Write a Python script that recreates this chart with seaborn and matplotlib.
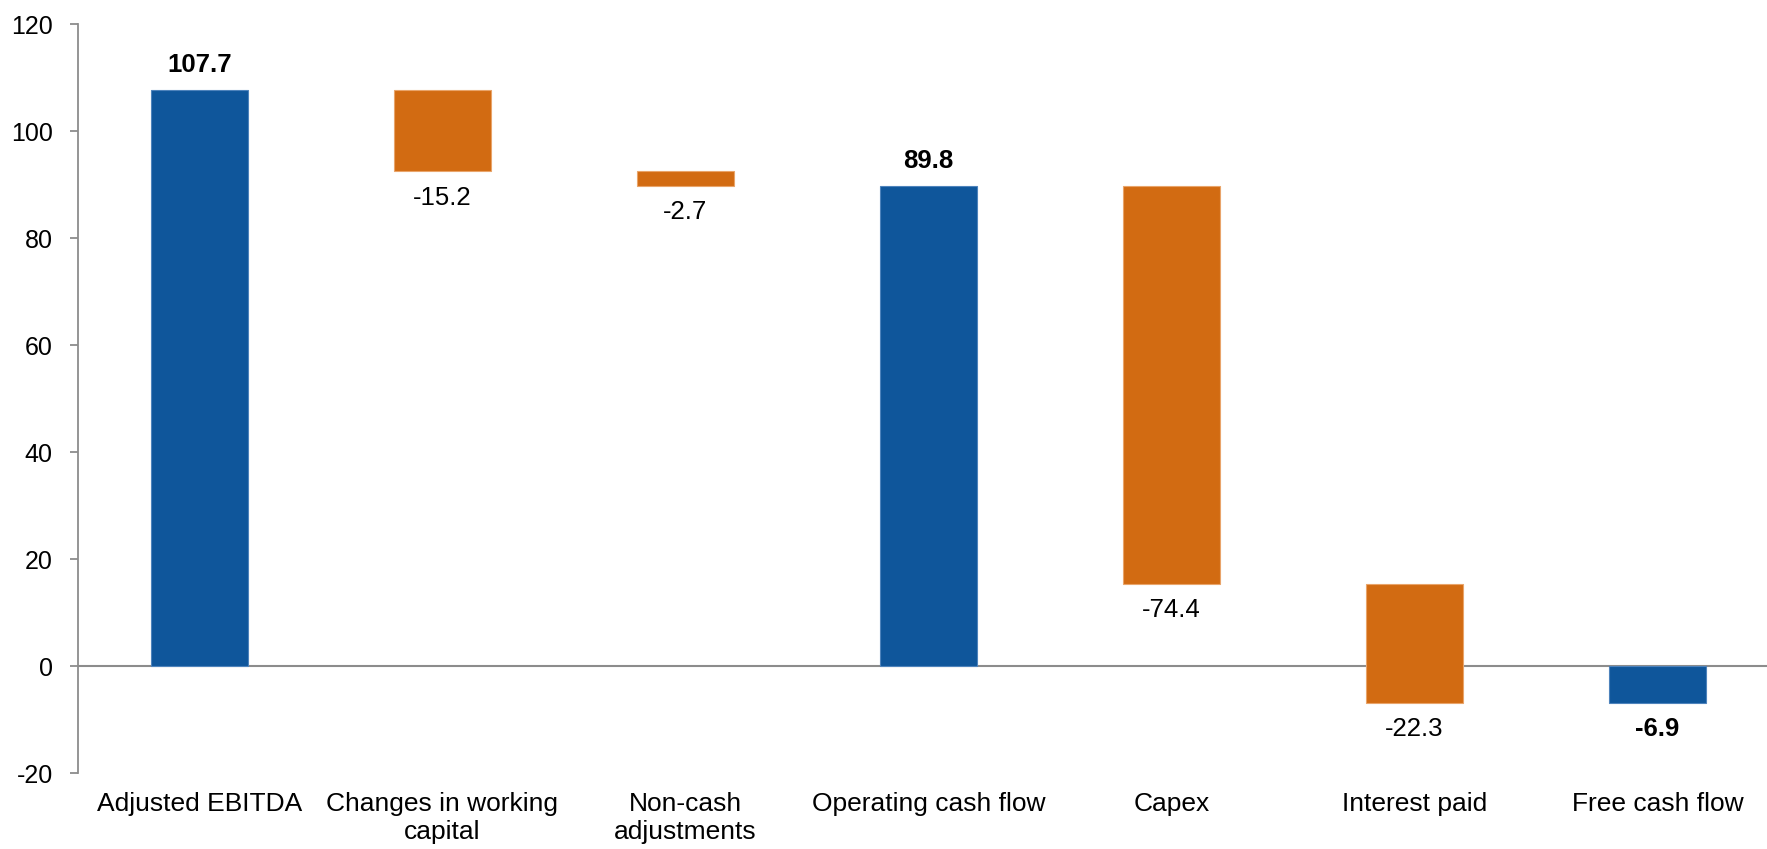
import numpy as np
import pandas as pd
import matplotlib
matplotlib.use("Agg")
import matplotlib.pyplot as plt
import seaborn as sns

# data
categories = ["Adjusted EBITDA", "Changes in working\ncapital", "Non-cash\nadjustments",
              "Operating cash flow", "Capex", "Interest paid", "Free cash flow"]
values = [107.7, -15.2, -2.7, 89.8, -74.4, -22.3, -6.9]
is_total = [True, False, False, True, False, False, True]

# waterfall bottoms / heights
bottoms, heights = [], []
running = 0.0
for v, tot in zip(values, is_total):
    if tot:
        bottoms.append(0.0)
        heights.append(v)
        running = v
    else:
        bottoms.append(running + v)
        heights.append(-v)
        running = running + v

df = pd.DataFrame({"cat": categories, "value": values, "height": heights,
                   "bottom": bottoms, "total": is_total})

blue = "#0F569B"
orange = "#D26B12"

sns.set_style("white")
plt.rcParams["font.family"] = ["Liberation Sans", "DejaVu Sans"]
plt.rcParams["axes.unicode_minus"] = False
plt.rcParams["text.color"] = "black"
plt.rcParams["xtick.color"] = "black"
plt.rcParams["ytick.color"] = "black"

fig = plt.figure(figsize=(17.67, 8.49), dpi=100)
ax = fig.add_axes([0.044, 0.0895, 0.956, 0.882])

tot_df = df[df["total"]]
chg_df = df[~df["total"]]
sns.barplot(data=tot_df, x="cat", y="height", order=categories, bottom=tot_df["bottom"].values,
            color=blue, saturation=1, edgecolor="#4E83BC", linewidth=0.8, width=0.4,
            errorbar=None, ax=ax)
sns.barplot(data=chg_df, x="cat", y="height", order=categories, bottom=chg_df["bottom"].values,
            color=orange, saturation=1, edgecolor="#E9A46A", linewidth=0.8, width=0.4,
            errorbar=None, ax=ax)

# value labels: totals in bold, changes below the bar
for i, row in enumerate(df.itertuples(index=False)):
    lo = min(row.bottom, row.bottom + row.height)
    hi = max(row.bottom, row.bottom + row.height)
    if row.total and row.value >= 0:
        ax.annotate(f"{row.value:.1f}", (i, hi), xytext=(0, 18), textcoords="offset points",
                    ha="center", va="center", fontsize=18.5, fontweight="bold")
    else:
        ax.annotate(f"{row.value:.1f}", (i, lo), xytext=(0, -19), textcoords="offset points",
                    ha="center", va="center", fontsize=18.5,
                    fontweight="bold" if row.total else "normal")

ax.axhline(0, color="#8C8C8C", lw=1.5, zorder=0.5)
ax.set_ylim(-20, 120)
ax.set_xlim(-0.5, 6.45)
ax.set_yticks(range(-20, 121, 20))
ax.set_xlabel("")
ax.set_ylabel("")
sns.despine(ax=ax, top=True, right=True, bottom=True)
ax.spines["left"].set_color("#8C8C8C")
ax.spines["left"].set_linewidth(1.3)
ax.tick_params(axis="y", left=True, length=6, width=1.3, color="#8C8C8C", labelcolor="black",
               pad=12, labelsize=18)
ax.tick_params(axis="x", bottom=False, length=0, pad=14, labelsize=19, labelcolor="black")

fig.savefig("out.png", dpi=100)
